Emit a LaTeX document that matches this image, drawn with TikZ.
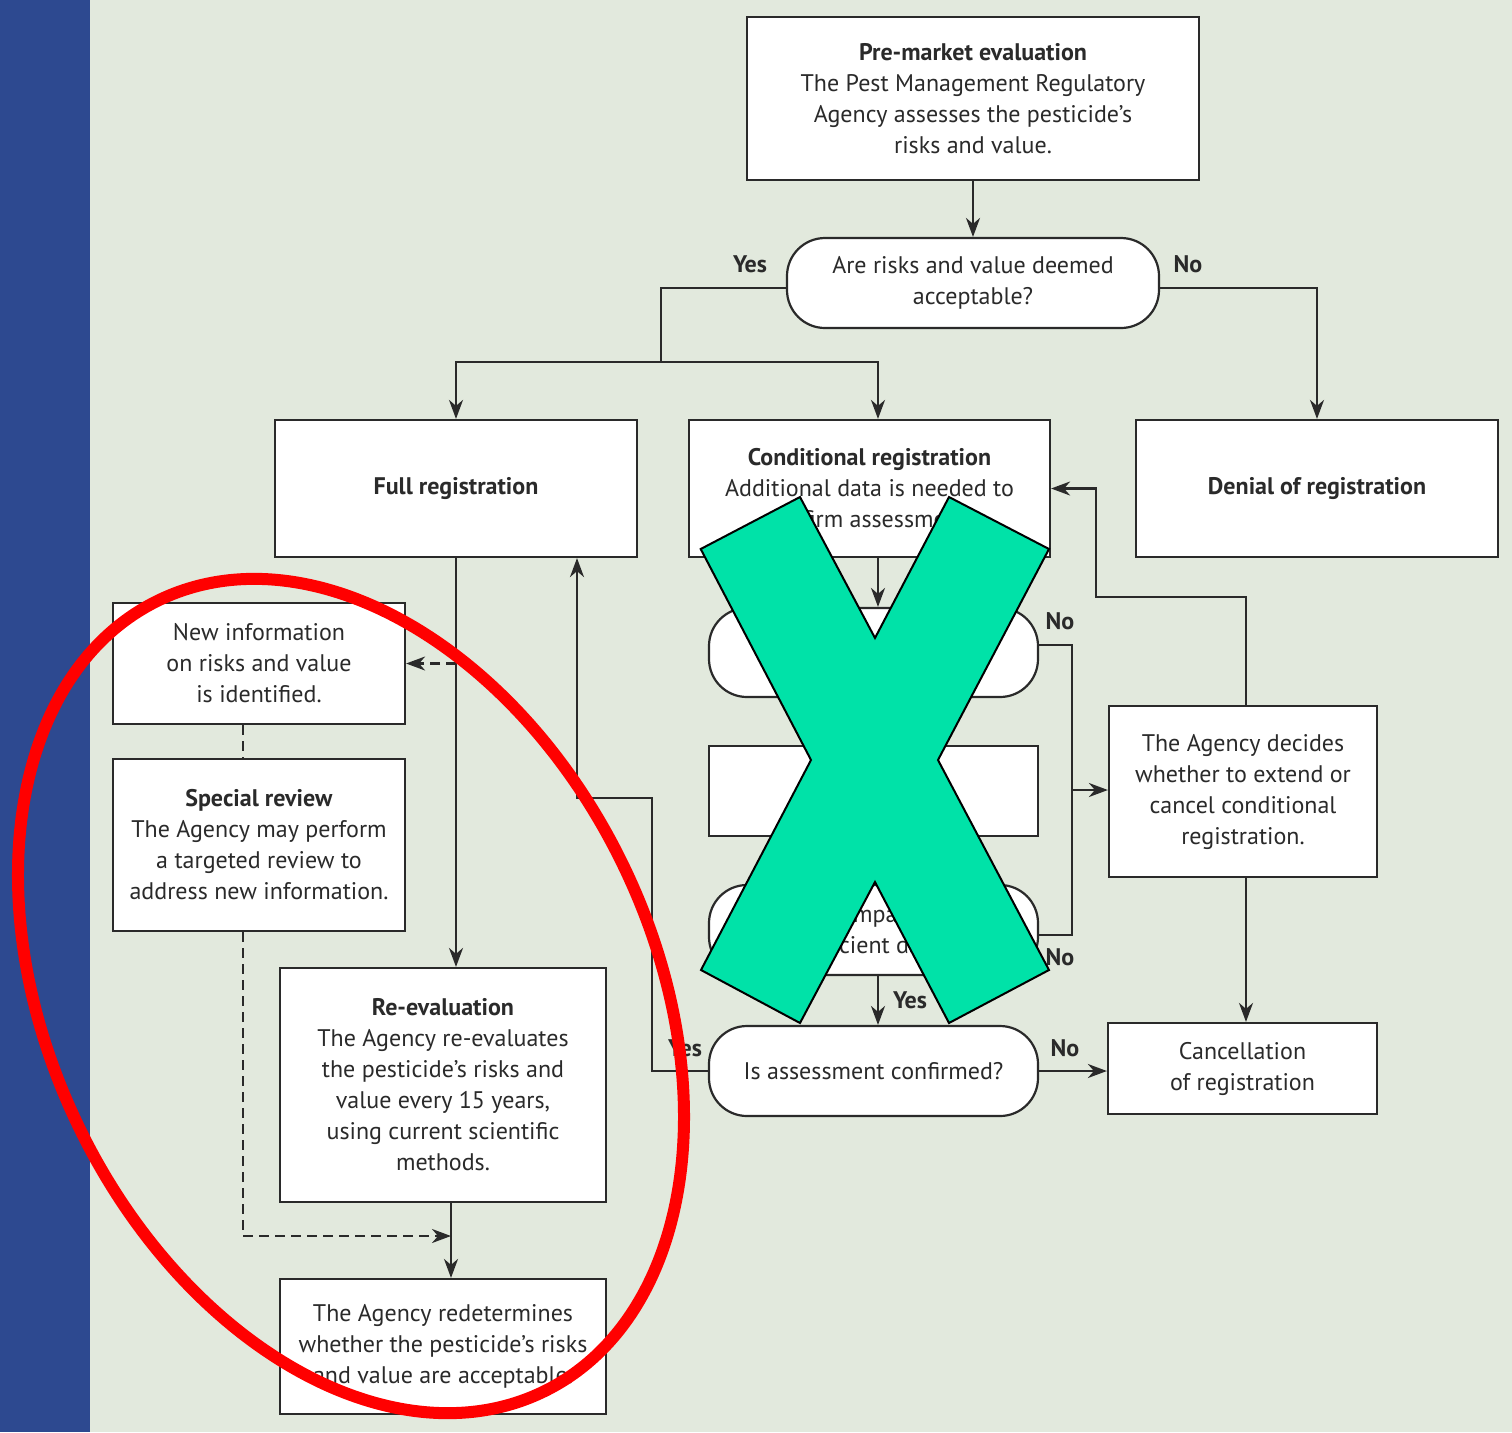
\documentclass[tikz,border=0pt]{standalone}
\usepackage{fontspec}
\setmainfont{PT Sans}
\usetikzlibrary{arrows.meta}
\definecolor{bgpaper}{RGB}{226,233,221}
\definecolor{sideblue}{RGB}{45,73,144}
\definecolor{inkgray}{RGB}{42,42,42}
\definecolor{crossgreen}{RGB}{0,226,168}

\begin{document}
\begin{tikzpicture}[x=0.5pt,y=-0.5pt,
  box/.style={draw=inkgray, line width=1.1pt, fill=white, text=inkgray, align=center, inner sep=0pt, font=\fontsize{12}{15.5}\selectfont},
  query/.style={box, rounded corners=19pt},
  link/.style={draw=inkgray, line width=1.1pt},
  arrowtip/.style={-{Stealth[length=9.5pt,width=7pt,inset=3pt]}},
  flow/.style={link, arrowtip},
  hint/.style={link, dash pattern=on 5pt off 3pt},
  ans/.style={text=inkgray, font=\bfseries\fontsize{12}{14}\selectfont}]
\useasboundingbox (0,0) rectangle (1512,1432);
\fill[sideblue] (0,0) rectangle (90,1432);
\fill[bgpaper] (90,0) rectangle (1512,1432);

\node[box, minimum width=226pt, minimum height=81.5pt] (pre) at (973,98.5) {\textbf{Pre-market evaluation}\\The Pest Management Regulatory\\Agency assesses the pesticide’s\\risks and value.};
\node[query, minimum width=186pt, minimum height=45pt] (accept) at (973,283) {Are risks and value deemed\\acceptable?};
\node[box, minimum width=181pt, minimum height=68.5pt] (full) at (456,488.5) {\textbf{Full registration}};
\node[box, minimum width=180.5pt, minimum height=68.5pt] (cond) at (869.5,488.5) {\textbf{Conditional registration}\\Additional data is needed to\\confirm assessment.};
\node[box, minimum width=181pt, minimum height=68.5pt] (deny) at (1317,488.5) {\textbf{Denial of registration}};
\node[query, minimum width=164.5pt, minimum height=44.5pt] (query2) at (873.5,652.5) {};
\node[box, minimum width=164.5pt, minimum height=45pt] (pending) at (873.5,791) {};
\node[query, minimum width=164.5pt, minimum height=45pt] (dataq) at (873.5,930) {Did the company submit\\sufficient data?};
\node[query, minimum width=164.5pt, minimum height=45pt] (confirm) at (873.5,1071) {Is assessment confirmed?};
\node[box, minimum width=134pt, minimum height=85.5pt] (decide) at (1243,791.5) {The Agency decides\\whether to extend or\\cancel conditional\\registration.};
\node[box, minimum width=134.5pt, minimum height=45.5pt] (cancel) at (1242.5,1068.5) {Cancellation\\of registration};
\node[box, minimum width=146pt, minimum height=60.5pt] (newinfo) at (259,663.5) {New information\\on risks and value\\is identified.};
\node[box, minimum width=146pt, minimum height=86pt] (special) at (259,845) {\textbf{Special review}\\The Agency may perform\\a targeted review to\\address new information.};
\node[box, minimum width=163pt, minimum height=117pt] (reeval) at (443,1085) {\textbf{Re-evaluation}\\The Agency re-evaluates\\the pesticide’s risks and\\value every 15 years,\\using current scientific\\methods.};
\node[box, minimum width=163pt, minimum height=67.5pt] (redet) at (443,1346.5) {The Agency redetermines\\whether the pesticide’s risks\\and value are acceptable.};

\coordinate (yesfork) at (661,362);
\coordinate (nobus) at (1072,790);
\coordinate (yesturn) at (652,798);
\coordinate (yesrise) at (577,798);
\coordinate (backturn) at (1096,597);
\coordinate (dashjoin) at (451,1236);

\draw[flow] (pre) -- (accept);
\draw[link] ([yshift=-2.5pt]accept.west) -| (yesfork);
\draw[flow] (yesfork) -| (full.north);
\draw[flow] (yesfork) -| ([xshift=4.25pt]cond.north);
\draw[flow] ([yshift=-2.5pt]accept.east) -| (deny.north);
\draw[flow] ([xshift=4.25pt]cond.south) -- ([xshift=4.25pt]cond.south |- query2.north);
\draw[link] ([yshift=3.75pt]query2.east) -| (nobus) |- ([yshift=-2.5pt]dataq.east);
\draw[flow] (nobus) -- (nobus -| decide.west);
\draw[flow] ([xshift=2.25pt]dataq.south) -- ([xshift=2.25pt]dataq.south |- confirm.north);
\draw[flow] (confirm.east) -- (confirm.east -| cancel.west);
\draw[flow] (confirm.west) -| (yesturn) -- (yesrise) -- (yesrise |- full.south);
\draw[flow] ([xshift=1.5pt]decide.north) |- (backturn) |- (cond.east);
\draw[flow] ([xshift=1.5pt]decide.south) -- ([xshift=1.5pt]decide.south |- cancel.north);
\draw[flow] (full.south) -- (full.south |- reeval.north);
\draw[hint, arrowtip] (full.south |- newinfo.east) -- (newinfo.east);
\draw[hint] ([xshift=-8pt]newinfo.south) -- ([xshift=-8pt]special.north);
\draw[hint, arrowtip] ([xshift=-8pt]special.south) |- (dashjoin);
\draw[flow] ([xshift=4pt]reeval.south) -- ([xshift=4pt]reeval.south |- redet.north);

\node[ans] (yesa) at (750,264) {Yes};
\node[ans] (noa) at (1188,264) {No};
\node[ans] (nob) at (1060,621) {No};
\node[ans] (noc) at (1060,957) {No};
\node[ans] (yesb) at (910,1000) {Yes};
\node[ans] (yesc) at (685,1048) {Yes};
\node[ans] (nod) at (1065,1048) {No};

\filldraw[fill=crossgreen, draw=black, line width=1pt] (700.7,549) -- (800,497) -- (875,638) -- (949,497) -- (1049,549) -- (938,760) -- (1049,970) -- (949,1023) -- (875,882) -- (800,1023) -- (701,970) -- (811,760) -- cycle;
\draw[red, line width=6pt, rotate around={-64:(351,996)}] (351,996) ellipse [x radius=220pt, y radius=151pt];
\end{tikzpicture}
\end{document}
